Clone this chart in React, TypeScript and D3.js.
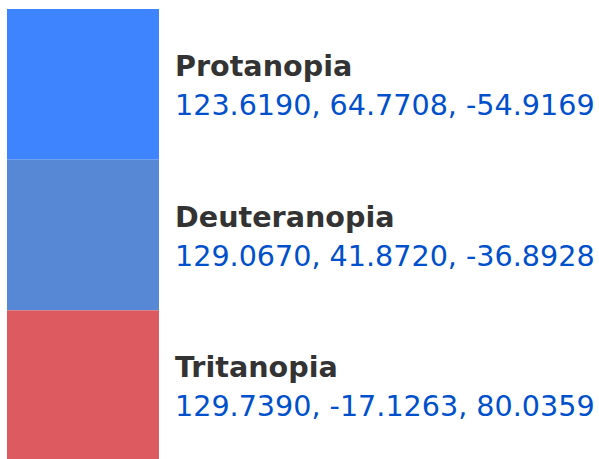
import React, { useEffect, useRef } from 'react';
import * as d3 from 'd3';

const names = ['Protanopia', 'Deuteranopia', 'Tritanopia'];
const colors = ['#3e83ff', '#5788d6', '#dd5b60'];
const labValues = [
  [123.619, 64.7708, -54.9169],
  [129.067, 41.872, -36.8928],
  [129.739, -17.1263, 80.0359],
];

const App: React.FC = () => {
  const svgRef = useRef<SVGSVGElement | null>(null);
  const width = 599;
  const height = 459;

  useEffect(() => {
    if (!svgRef.current) return;
    const svg = d3.select(svgRef.current);
    svg.selectAll('*').remove();

    const y = d3.scaleBand()
      .domain(names)
      .range([9, 461])
      .padding(0);

    // plain hyphen for negatives, like the original
    const fmt = (v: number) => v.toFixed(4);

    const rows = svg.selectAll<SVGGElement, string>('.row')
      .data(names)
      .enter()
      .append('g')
      .attr('class', 'row')
      .attr('transform', d => `translate(0, ${y(d)})`);

    rows.append('rect')
      .attr('x', 7)
      .attr('width', 152)
      .attr('height', y.bandwidth())
      .attr('fill', (_, i) => colors[i]);

    // name + lab numbers next to each swatch
    rows.append('text')
      .attr('x', 175)
      .attr('y', 67)
      .attr('font-family', 'DejaVu Sans')
      .attr('font-size', 28.6)
      .attr('font-weight', 'bold')
      .attr('fill', '#333333')
      .text(d => d);

    rows.append('text')
      .attr('x', 175)
      .attr('y', 106)
      .attr('font-family', 'DejaVu Sans')
      .attr('font-size', 28.6)
      .attr('fill', '#0050cc')
      .text((_, i) => labValues[i].map(fmt).join(', '));
  }, []);

  return (
    <svg
      ref={svgRef}
      width={width}
      height={height}
      style={{ position: 'absolute', left: 0, top: 0, background: '#fff' }}
    />
  );
};

export default App;
